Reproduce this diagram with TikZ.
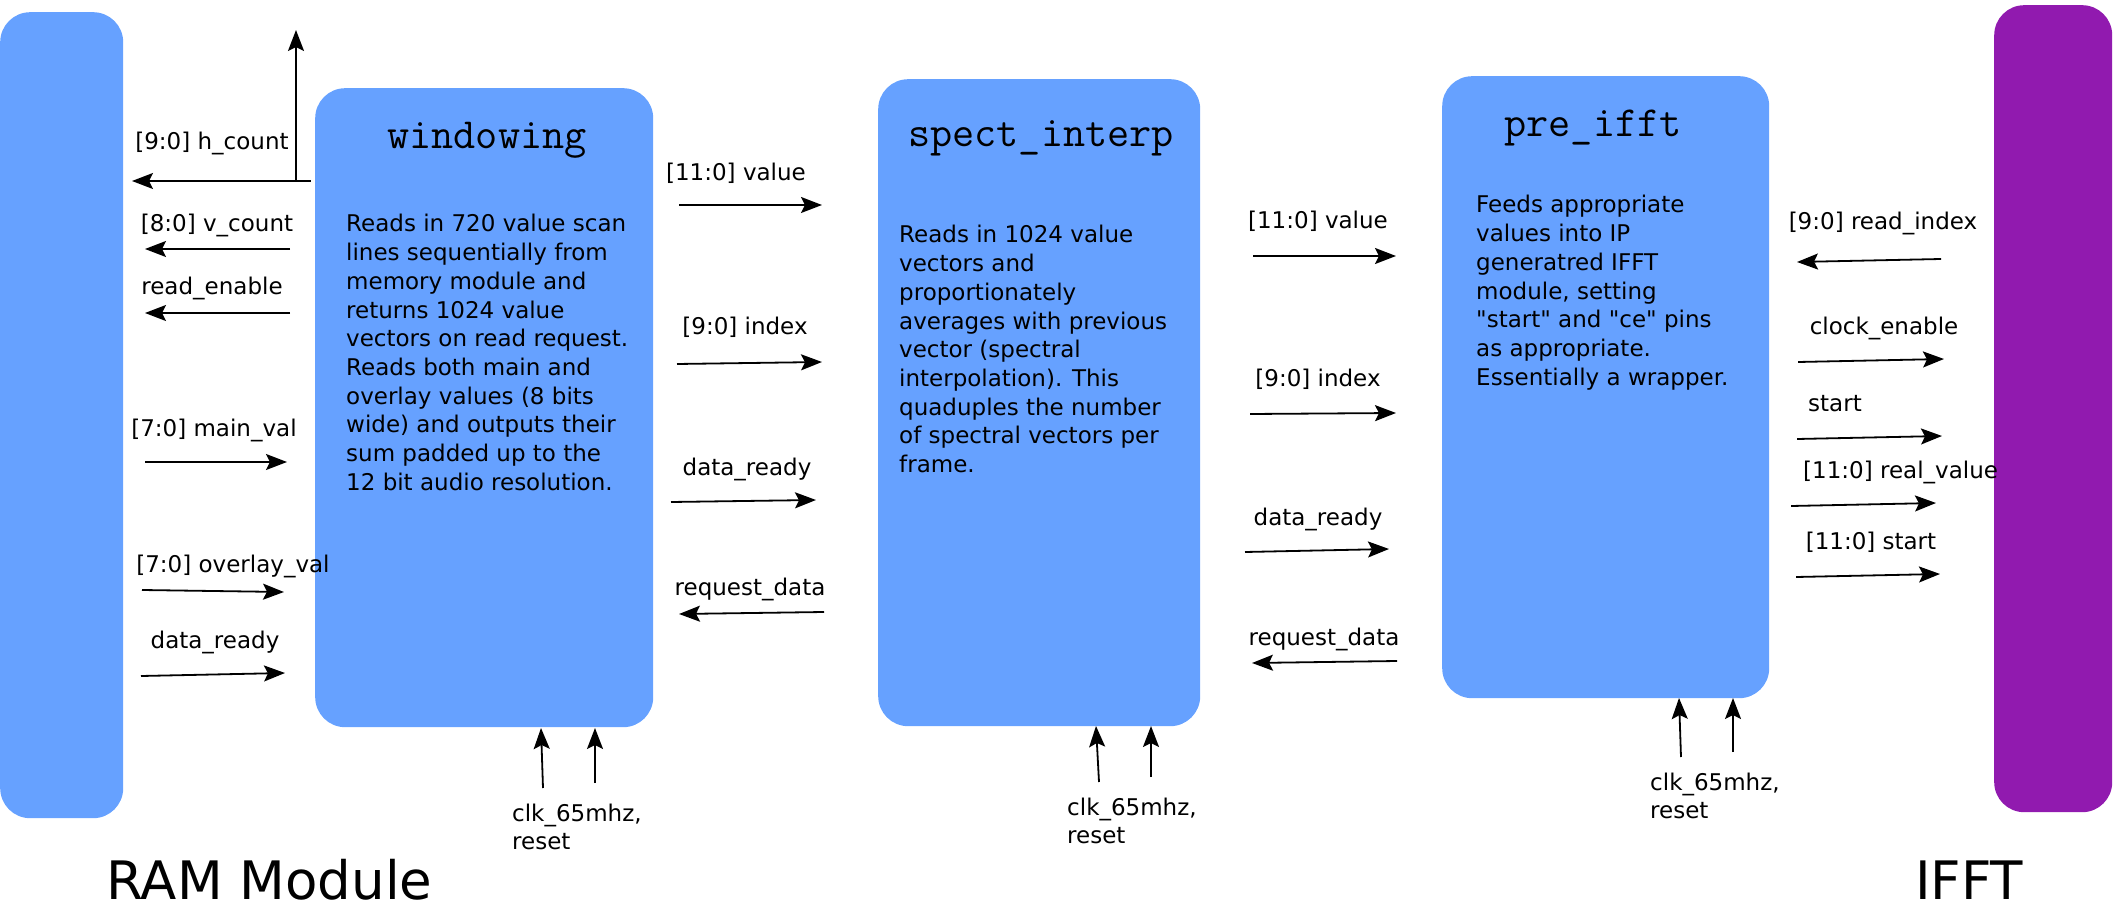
\documentclass[tikz,border=0pt]{standalone}
\usepackage{fontspec}
\setmainfont{DejaVu Sans}
\font\dqfont="DejaVu Sans" at 23pt
\newcommand{\dq}{{\dqfont"}}
\usetikzlibrary{arrows.meta}
\definecolor{blk}{HTML}{66A1FF}
\definecolor{ifftc}{HTML}{911AAF}
\tikzset{
 blockbox/.style={fill=blk, draw=none, rounded corners=30pt, inner sep=0, anchor=north west},
 sig/.style={-{Stealth[length=21pt,width=16pt,inset=4pt]}, line width=1.8pt},
 lbl/.style={font=\fontsize{23}{28.7}\selectfont, inner sep=0, anchor=base},
 titletext/.style={font=\ttfamily\fontsize{43}{45}\selectfont, inner sep=0, anchor=base},
 body/.style={font=\fontsize{23}{28.7}\selectfont, inner sep=0, anchor=base west},
 big/.style={font=\fontsize{53}{58}\selectfont, inner sep=0, anchor=base west},
}
\begin{document}
\begin{tikzpicture}[x=1pt,y=-1pt]
\useasboundingbox (0,0) rectangle (2113,909);
% blocks
\node[blockbox, minimum width=123pt, minimum height=806pt] (ram) at (0,12) {};
\node[blockbox, fill=ifftc, minimum width=118pt, minimum height=807pt] (ifft) at (1994,5) {};
\node[blockbox, minimum width=338pt, minimum height=639pt] (win) at (315,88) {};
\node[blockbox, minimum width=322pt, minimum height=647pt] (spi) at (878,79) {};
\node[blockbox, minimum width=327pt, minimum height=622pt] (pre) at (1442,76) {};
% titles
\node[titletext] (wint) at (487,149) {windowing};
\node[titletext] (spit) at (1041,147) {spect\_interp};
\node[titletext] (pret) at (1593,137) {pre\_ifft};
% bodies
\node[body] (winb) at (346,232) {\parbox[t]{300pt}{\raggedright Reads in 720 value scan\\lines sequentially from\\memory module and\\returns 1024 value\\vectors on read request.\\Reads both main and\\overlay values (8 bits\\wide) and outputs their\\sum padded up to the\\12 bit audio resolution.}};
\node[body] (spib) at (899,243) {\parbox[t]{300pt}{\raggedright Reads in 1024 value\\vectors and\\proportionately\\averages with previous\\vector (spectral\\interpolation). This\\quaduples the number\\of spectral vectors per\\frame.}};
\node[body] (preb) at (1476,213) {\parbox[t]{300pt}{\raggedright Feeds appropriate\\values into IP\\generatred IFFT\\module, setting\\\dq start\dq{} and \dq ce\dq{} pins\\as appropriate.\\Essentially a wrapper.}};
% big labels
\node[big] (ramt) at (106,899) {RAM Module};
\node[big] (ifftt) at (1915,899) {IFFT};
% coordinates: left group
\coordinate (hcA) at (311,181); \coordinate (hcB) at (132,181);
\coordinate (hcV) at (296,181); \coordinate (hcT) at (296,30);
\coordinate (vcA) at (290,249); \coordinate (vcB) at (145,249);
\coordinate (reA) at (290,313); \coordinate (reB) at (145,313);
\coordinate (mvA) at (145,462); \coordinate (mvB) at (287,462);
\coordinate (ovA) at (142,590); \coordinate (ovB) at (284,592);
\coordinate (drA) at (141,676); \coordinate (drB) at (285,673);
\coordinate (wc1A) at (543,788); \coordinate (wc1B) at (541,728);
\coordinate (wc2A) at (595,783); \coordinate (wc2B) at (595,728);
% middle group 1
\coordinate (v1A) at (679,205); \coordinate (v1B) at (822,205);
\coordinate (i1A) at (677,364); \coordinate (i1B) at (822,362);
\coordinate (d1A) at (671,502); \coordinate (d1B) at (816,500);
\coordinate (r1A) at (824,612); \coordinate (r1B) at (679,614);
\coordinate (sc1A) at (1099,782); \coordinate (sc1B) at (1096,726);
\coordinate (sc2A) at (1151,777); \coordinate (sc2B) at (1151,726);
% middle group 2
\coordinate (v2A) at (1253,256); \coordinate (v2B) at (1396,256);
\coordinate (i2A) at (1250,414); \coordinate (i2B) at (1396,413);
\coordinate (d2A) at (1245,552); \coordinate (d2B) at (1389,549);
\coordinate (r2A) at (1397,661); \coordinate (r2B) at (1252,663);
\coordinate (pc1A) at (1681,757); \coordinate (pc1B) at (1679,698);
\coordinate (pc2A) at (1733,752); \coordinate (pc2B) at (1733,698);
% right group
\coordinate (riA) at (1941,259); \coordinate (riB) at (1797,262);
\coordinate (ceA) at (1798,362); \coordinate (ceB) at (1944,359);
\coordinate (stA) at (1797,439); \coordinate (stB) at (1942,436);
\coordinate (rvA) at (1791,506); \coordinate (rvB) at (1936,503);
\coordinate (s2A) at (1796,577); \coordinate (s2B) at (1940,574);
% arrows
\draw[line width=1.8pt] (hcV) -- (hcA);
\draw[sig] (hcV) -- (hcB);
\draw[sig] (hcV) -- (hcT);
\foreach \a/\b in {vcA/vcB, reA/reB, mvA/mvB, ovA/ovB, drA/drB, wc1A/wc1B, wc2A/wc2B,
  v1A/v1B, i1A/i1B, d1A/d1B, r1A/r1B, sc1A/sc1B, sc2A/sc2B,
  v2A/v2B, i2A/i2B, d2A/d2B, r2A/r2B, pc1A/pc1B, pc2A/pc2B,
  riA/riB, ceA/ceB, stA/stB, rvA/rvB, s2A/s2B}
  \draw[sig] (\a) -- (\b);
% signal labels
\node[lbl] (lhc) at (212,150) {[9:0] h\_count};
\node[lbl] (lvc) at (217,232) {[8:0] v\_count};
\node[lbl] (lre) at (212,295) {read\_enable};
\node[lbl] (lmv) at (214,436) {[7:0] main\_val};
\node[lbl] (lov) at (233,572) {[7:0] overlay\_val};
\node[lbl] (ldr) at (215,648) {data\_ready};
\node[lbl] (lv1) at (736,181) {[11:0] value};
\node[lbl] (li1) at (745,335) {[9:0] index};
\node[lbl] (ld1) at (747,475) {data\_ready};
\node[lbl] (lr1) at (750,595) {request\_data};
\node[lbl] (lv2) at (1318,229) {[11:0] value};
\node[lbl] (li2) at (1318,386) {[9:0] index};
\node[lbl] (ld2) at (1318,525) {data\_ready};
\node[lbl] (lr2) at (1324,645) {request\_data};
\node[lbl] (lri) at (1883,230) {[9:0] read\_index};
\node[lbl] (lce) at (1884,335) {clock\_enable};
\node[lbl, anchor=base west] (lst) at (1808,411) {start};
\node[lbl, anchor=base west] (lrv) at (1803,478) {[11:0] real\_value};
\node[lbl] (ls2) at (1871,549) {[11:0] start};
% clock labels
\node[body] (wclk) at (512,821) {\parbox[t]{200pt}{\raggedright clk\_65mhz,\\reset}};
\node[body] (sclk) at (1067,815) {\parbox[t]{200pt}{\raggedright clk\_65mhz,\\reset}};
\node[body] (pclk) at (1650,790) {\parbox[t]{200pt}{\raggedright clk\_65mhz,\\reset}};
\end{tikzpicture}
\end{document}
